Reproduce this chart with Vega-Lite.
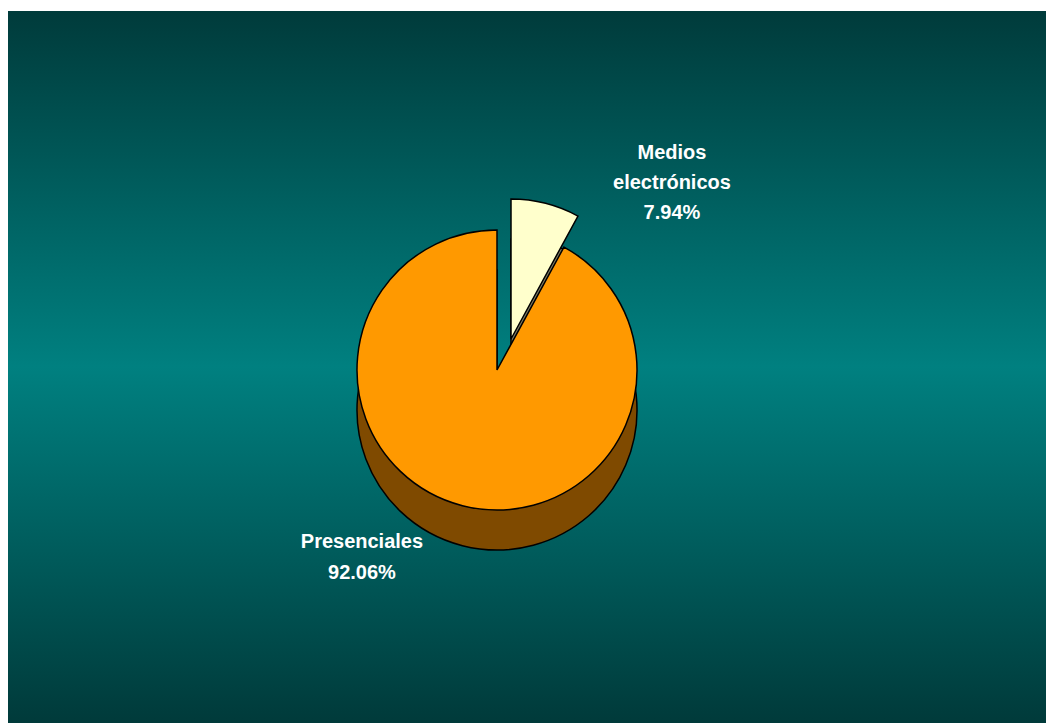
{
  "$schema": "https://vega.github.io/schema/vega-lite/v6.json",
  "width": 1048,
  "height": 723,
  "autosize": {"type": "fit", "contains": "padding"},
  "padding": {"left": 8, "top": 11, "right": 2, "bottom": 0},
  "background": "white",
  "config": {"view": {"stroke": "black", "strokeWidth": 2}},
  "data": {
    "values": [
      {"canal": "Medios electrónicos", "pct": 7.94, "orden": 1, "etiqueta": "Medios\nelectrónicos\n7.94%"},
      {"canal": "Presenciales", "pct": 92.06, "orden": 2, "etiqueta": "Presenciales\n92.06%"}
    ]
  },
  "layer": [
    {
      "mark": {
        "type": "rect",
        "fill": {
          "gradient": "linear", "x1": 0, "y1": 0, "x2": 0, "y2": 1,
          "stops": [
            {"offset": 0, "color": "#003b3b"},
            {"offset": 0.5, "color": "#008080"},
            {"offset": 1, "color": "#003a3a"}
          ]
        }
      },
      "encoding": {}
    },
    {
      "mark": {"type": "arc", "radius": 140, "xOffset": -30, "yOffset": 43, "fill": "#7f4a00", "stroke": "black", "strokeWidth": 1.5},
      "encoding": {
        "theta": {"field": "pct", "type": "quantitative", "stack": true},
        "order": {"field": "orden"},
        "opacity": {"condition": {"test": "datum.canal === 'Presenciales'", "value": 1}, "value": 0}
      }
    },
    {
      "mark": {"type": "arc", "radius": 140, "xOffset": -16, "yOffset": 12, "fill": "#807f66", "stroke": "black", "strokeWidth": 1.5},
      "encoding": {
        "theta": {"field": "pct", "type": "quantitative", "stack": true},
        "order": {"field": "orden"},
        "opacity": {"condition": {"test": "datum.canal === 'Presenciales'", "value": 0}, "value": 1}
      }
    },
    {
      "mark": {"type": "arc", "radius": 140, "xOffset": -30, "yOffset": 3, "fill": "#ff9900", "stroke": "black", "strokeWidth": 1.5},
      "encoding": {
        "theta": {"field": "pct", "type": "quantitative", "stack": true},
        "order": {"field": "orden"},
        "opacity": {"condition": {"test": "datum.canal === 'Presenciales'", "value": 1}, "value": 0}
      }
    },
    {
      "mark": {"type": "arc", "radius": 140, "xOffset": -16, "yOffset": -28, "fill": "#ffffcc", "stroke": "black", "strokeWidth": 1.5},
      "encoding": {
        "theta": {"field": "pct", "type": "quantitative", "stack": true},
        "order": {"field": "orden"},
        "opacity": {"condition": {"test": "datum.canal === 'Presenciales'", "value": 0}, "value": 1}
      }
    },
    {
      "mark": {"type": "text", "radius": 231, "thetaOffset": 0.375, "xOffset": -30, "yOffset": -12, "font": "Liberation Sans", "fontSize": 20, "fontWeight": "bold", "fill": "white", "lineBreak": "\n", "lineHeight": 31, "align": "center", "baseline": "middle"},
      "encoding": {
        "theta": {"field": "pct", "type": "quantitative", "stack": true},
        "order": {"field": "orden"},
        "text": {"field": "etiqueta"},
        "opacity": {"condition": {"test": "datum.canal === 'Presenciales'", "value": 1}, "value": 0}
      }
    },
    {
      "mark": {"type": "text", "radius": 256, "thetaOffset": 0.503, "xOffset": -30, "yOffset": -27, "font": "Liberation Sans", "fontSize": 20, "fontWeight": "bold", "fill": "white", "lineBreak": "\n", "lineHeight": 30, "align": "center", "baseline": "middle"},
      "encoding": {
        "theta": {"field": "pct", "type": "quantitative", "stack": true},
        "order": {"field": "orden"},
        "text": {"field": "etiqueta"},
        "opacity": {"condition": {"test": "datum.canal === 'Presenciales'", "value": 0}, "value": 1}
      }
    }
  ]
}
